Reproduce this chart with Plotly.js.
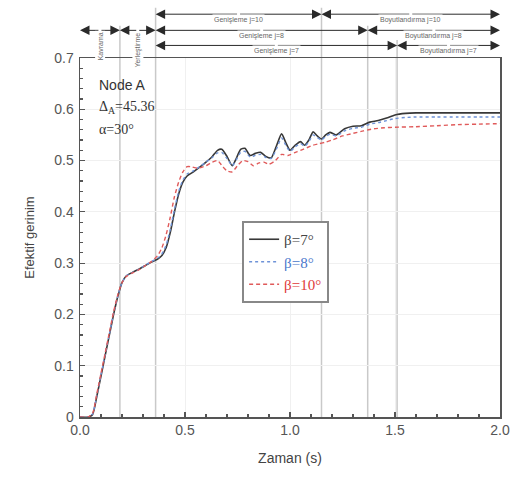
<!DOCTYPE html>
<html>
<head>
<meta charset="utf-8">
<script src="https://cdn.plot.ly/plotly-3.0.1.min.js"></script>
<style>html,body{margin:0;padding:0;background:#fff;}#chart{width:523px;height:483px;}</style>
</head>
<body>
<div id="chart"></div>
<script>
// ---- Data ----
const time7 = [0, 0.04, 0.06, 0.08, 0.10, 0.12, 0.14, 0.16, 0.18, 0.20, 0.22, 0.25, 0.28, 0.31, 0.34, 0.37, 0.39, 0.41, 0.43, 0.45, 0.47, 0.49, 0.51, 0.54, 0.57, 0.60, 0.63, 0.655, 0.675, 0.70, 0.725, 0.745, 0.765, 0.785, 0.81, 0.835, 0.86, 0.885, 0.91, 0.935, 0.96, 0.98, 1.00, 1.025, 1.05, 1.07, 1.09, 1.11, 1.13, 1.15, 1.17, 1.19, 1.22, 1.26, 1.30, 1.34, 1.38, 1.42, 1.46, 1.50, 1.55, 1.60, 1.70, 1.80, 1.90, 2.00];
const strain7 = [0, 0, 0.005, 0.04, 0.08, 0.12, 0.16, 0.20, 0.235, 0.262, 0.275, 0.282, 0.288, 0.295, 0.302, 0.308, 0.315, 0.33, 0.36, 0.40, 0.435, 0.458, 0.47, 0.478, 0.487, 0.497, 0.508, 0.52, 0.522, 0.508, 0.49, 0.505, 0.522, 0.524, 0.51, 0.514, 0.516, 0.508, 0.505, 0.528, 0.552, 0.535, 0.52, 0.53, 0.537, 0.53, 0.54, 0.556, 0.548, 0.542, 0.55, 0.555, 0.55, 0.562, 0.567, 0.568, 0.575, 0.578, 0.583, 0.589, 0.592, 0.593, 0.593, 0.593, 0.593, 0.593];

const time8 = [0, 0.04, 0.06, 0.08, 0.10, 0.12, 0.14, 0.16, 0.18, 0.20, 0.22, 0.25, 0.28, 0.31, 0.34, 0.37, 0.39, 0.41, 0.43, 0.45, 0.47, 0.49, 0.51, 0.54, 0.57, 0.60, 0.63, 0.655, 0.675, 0.70, 0.725, 0.745, 0.765, 0.785, 0.81, 0.835, 0.86, 0.885, 0.91, 0.935, 0.96, 0.98, 1.00, 1.025, 1.05, 1.07, 1.09, 1.11, 1.13, 1.15, 1.17, 1.19, 1.22, 1.26, 1.30, 1.34, 1.38, 1.42, 1.46, 1.50, 1.55, 1.60, 1.70, 1.80, 1.90, 2.00];
const strain8 = [0, 0, 0.006, 0.042, 0.082, 0.122, 0.162, 0.202, 0.236, 0.262, 0.275, 0.282, 0.288, 0.296, 0.303, 0.31, 0.318, 0.335, 0.366, 0.405, 0.44, 0.462, 0.474, 0.48, 0.488, 0.497, 0.506, 0.515, 0.516, 0.504, 0.49, 0.502, 0.516, 0.518, 0.507, 0.51, 0.512, 0.506, 0.504, 0.522, 0.544, 0.53, 0.518, 0.527, 0.533, 0.528, 0.537, 0.55, 0.545, 0.54, 0.547, 0.551, 0.548, 0.558, 0.563, 0.565, 0.571, 0.574, 0.578, 0.582, 0.584, 0.585, 0.585, 0.585, 0.585, 0.585];

const time10 = [0, 0.04, 0.06, 0.08, 0.10, 0.12, 0.14, 0.16, 0.18, 0.20, 0.22, 0.25, 0.28, 0.31, 0.34, 0.37, 0.39, 0.41, 0.43, 0.45, 0.47, 0.49, 0.51, 0.53, 0.56, 0.60, 0.63, 0.655, 0.68, 0.70, 0.725, 0.75, 0.775, 0.80, 0.825, 0.85, 0.875, 0.90, 0.93, 0.96, 0.99, 1.02, 1.05, 1.08, 1.11, 1.14, 1.17, 1.20, 1.25, 1.30, 1.35, 1.40, 1.45, 1.50, 1.60, 1.70, 1.80, 1.90, 2.00];
const strain10 = [0, 0, 0.007, 0.045, 0.085, 0.125, 0.165, 0.205, 0.238, 0.262, 0.274, 0.281, 0.287, 0.295, 0.303, 0.315, 0.33, 0.355, 0.39, 0.43, 0.458, 0.478, 0.488, 0.488, 0.485, 0.49, 0.497, 0.5, 0.488, 0.48, 0.478, 0.49, 0.5, 0.498, 0.49, 0.495, 0.497, 0.493, 0.5, 0.512, 0.51, 0.515, 0.52, 0.525, 0.53, 0.533, 0.536, 0.54, 0.548, 0.553, 0.558, 0.562, 0.564, 0.565, 0.566, 0.568, 0.57, 0.571, 0.572];

const seriesNames = ['β=7°', 'β=8°', 'β=10°'];
const seriesColors = ['#383838', '#6f93d8', '#e05a5a'];
const legendTextColors = ['#444444', '#4a78cc', '#e03a3a'];

const xTickVals = [0, 0.5, 1.0, 1.5, 2.0];
const xTickText = ['0.0', '0.5', '1.0', '1.5', '2.0'];
const yTickVals = [0, 0.1, 0.2, 0.3, 0.4, 0.5, 0.6, 0.7];
const yTickText = ['0', '0.1', '0.2', '0.3', '0.4', '0.5', '0.6', '0.7'];

// Process phase boundaries (time, s) and the annotation rows above the plot
const phaseTimes = [0.19, 0.36, 1.15, 1.37, 1.51];
const phaseLineTops = [1.09, 1.14, 1.14, 1.09, 1.05];
const rowLevels = [1.122, 1.077, 1.035];
const phaseSegments = [
  {row: 0, x0: 0.36, x1: 1.15, label: 'Genişleme j=10', vertical: false},
  {row: 0, x0: 1.15, x1: 2.0, label: 'Boyutlandırma j=10', vertical: false},
  {row: 1, x0: 0.0, x1: 0.19, label: 'Kavrama', vertical: true},
  {row: 1, x0: 0.19, x1: 0.36, label: 'Yerleştirme', vertical: true},
  {row: 1, x0: 0.36, x1: 1.37, label: 'Genişleme j=8', vertical: false},
  {row: 1, x0: 1.37, x1: 2.0, label: 'Boyutlandırma j=8', vertical: false},
  {row: 2, x0: 0.36, x1: 1.51, label: 'Genişleme j=7', vertical: false},
  {row: 2, x0: 1.51, x1: 2.0, label: 'Boyutlandırma j=7', vertical: false}
];

// ---- Traces ----
const legendName = (i) => '<span style="color:' + legendTextColors[i] + '">' + seriesNames[i] + '</span>';
const traces = [
  {x: time7, y: strain7, type: 'scatter', mode: 'lines', name: legendName(0),
   line: {color: seriesColors[0], width: 1.6, shape: 'spline', smoothing: 0.6}},
  {x: time8, y: strain8, type: 'scatter', mode: 'lines', name: legendName(1),
   line: {color: seriesColors[1], width: 1.4, dash: 'dot', shape: 'spline', smoothing: 0.6}},
  {x: time10, y: strain10, type: 'scatter', mode: 'lines', name: legendName(2),
   line: {color: seriesColors[2], width: 1.4, dash: '4px,3px', shape: 'spline', smoothing: 0.6}}
];

// ---- Shapes & annotations ----
const shapes = phaseTimes.map((t, i) => ({
  type: 'line', xref: 'x', yref: 'paper', x0: t, x1: t, y0: 0, y1: phaseLineTops[i],
  line: {color: '#c9c9c9', width: 1.5}, layer: 'below'
}));

const annotations = [
  {xref: 'paper', yref: 'paper', x: 0.04, y: 0.925, xanchor: 'left', yanchor: 'middle', showarrow: false,
   text: 'Node A', font: {family: 'Liberation Sans, Arial, sans-serif', size: 14, color: '#333'}},
  {xref: 'paper', yref: 'paper', x: 0.04, y: 0.862, xanchor: 'left', yanchor: 'middle', showarrow: false,
   text: 'Δ<sub>A</sub>=45.36', font: {family: 'Liberation Serif, Times New Roman, serif', size: 14, color: '#333'}},
  {xref: 'paper', yref: 'paper', x: 0.04, y: 0.80, xanchor: 'left', yanchor: 'middle', showarrow: false,
   text: 'α=30°', font: {family: 'Liberation Serif, Times New Roman, serif', size: 14, color: '#333'}}
];

phaseSegments.forEach(seg => {
  const yv = rowLevels[seg.row];
  const mid = (seg.x0 + seg.x1) / 2;
  [seg.x0, seg.x1].forEach(end => {
    annotations.push({
      xref: 'x', yref: 'paper', x: end, y: yv, axref: 'x', ax: mid, ayref: 'pixel', ay: 0,
      showarrow: true, arrowhead: 2, arrowsize: 1.9, arrowwidth: 1, arrowcolor: '#2a2a2a',
      standoff: 0, startstandoff: 0, text: ''
    });
  });
  annotations.push({
    xref: 'x', yref: 'paper', x: mid, y: yv, showarrow: false,
    text: seg.label, textangle: seg.vertical ? -90 : 0,
    bgcolor: '#ffffff', borderpad: 1,
    font: {family: 'Liberation Sans, Arial, sans-serif', size: 7, color: '#666'}
  });
});

const axisCommon = {
  showline: true, linecolor: '#555', linewidth: 1.5, mirror: true,
  ticks: 'inside', ticklen: 5, tickwidth: 1.2, tickcolor: '#555',
  showgrid: true, gridcolor: '#f0f0f0', gridwidth: 1, zeroline: false,
  tickfont: {family: 'Liberation Sans, Arial, sans-serif', size: 14, color: '#555'},
  tickmode: 'array'
};

const layout = {
  width: 523, height: 483,
  margin: {l: 80, r: 23, t: 58, b: 66},
  paper_bgcolor: '#ffffff', plot_bgcolor: '#ffffff',
  showlegend: true,
  legend: {x: 0.386, y: 0.546, xanchor: 'left', yanchor: 'top',
    bgcolor: '#ffffff', bordercolor: '#888', borderwidth: 2,
    font: {family: 'Liberation Serif, Times New Roman, serif', size: 15, color: '#444'},
    tracegroupgap: 0},
  xaxis: Object.assign({}, axisCommon, {
    range: [0, 2.0], tickvals: xTickVals, ticktext: xTickText,
    minor: {dtick: 0.1, ticks: 'inside', ticklen: 3, tickcolor: '#555', showgrid: false},
    title: {text: 'Zaman (s)', standoff: 16, font: {family: 'Liberation Sans, Arial, sans-serif', size: 14, color: '#444'}}
  }),
  yaxis: Object.assign({}, axisCommon, {
    range: [0, 0.7], tickvals: yTickVals, ticktext: yTickText,
    ticklabelstandoff: 2,
    minor: {dtick: 0.02, ticks: 'inside', ticklen: 3, tickcolor: '#555', showgrid: false},
    title: {text: 'Efektif gerinim', standoff: 16, font: {family: 'Liberation Sans, Arial, sans-serif', size: 13, color: '#444'}}
  }),
  shapes: shapes,
  annotations: annotations
};

Plotly.newPlot('chart', traces, layout, {displayModeBar: false, staticPlot: true});
</script>
</body>
</html>
